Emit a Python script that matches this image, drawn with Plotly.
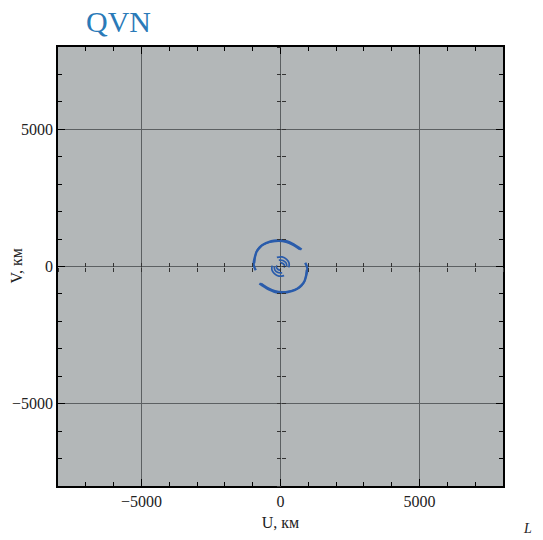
import plotly.graph_objects as go

# UV tracks (km)
outer_up_u = [-890, -965, -950, -920, -860, -740, -600, -430, -230, 0, 220, 420, 580, 700, 760]
outer_up_v = [-140, 60, 220, 340, 540, 700, 810, 890, 940, 955, 920, 840, 740, 660, 620]
outer_up2_u = [-930, -900, -840, -700, -520, -300, -60, 200, 420, 600, 690]
outer_up2_v = [120, 420, 600, 760, 850, 900, 920, 880, 790, 680, 610]

outer_lo_u = [890, 965, 950, 920, 860, 740, 600, 430, 230, 0, -220, -420, -580, -700, -760]
outer_lo_v = [140, -60, -220, -340, -540, -700, -810, -890, -940, -955, -920, -840, -740, -660, -620]
outer_lo2_u = [930, 900, 840, 700, 520, 300, 60, -200, -420, -600, -690]
outer_lo2_v = [-120, -420, -600, -760, -850, -900, -920, -880, -790, -680, -610]

inner_a_u = [-130, 60, 220, 310, 300]
inner_a_v = [330, 350, 260, 120, -30]
inner_b_u = [-60, 90, 200, 225]
inner_b_v = [230, 220, 130, 0]
inner_c_u = [-20, 100, 145, 120]
inner_c_v = [140, 100, 20, -40]

inner_d_u = [130, -60, -220, -310, -300]
inner_d_v = [-330, -350, -260, -120, 30]
inner_e_u = [60, -90, -200, -225]
inner_e_v = [-230, -220, -130, 0]
inner_f_u = [20, -100, -145, -120]
inner_f_v = [-140, -100, -20, 40]

tracks = [
    (outer_up_u, outer_up_v, 2.4), (outer_up2_u, outer_up2_v, 1.5),
    (outer_lo_u, outer_lo_v, 2.4), (outer_lo2_u, outer_lo2_v, 1.5),
    (inner_a_u, inner_a_v, 1.7), (inner_b_u, inner_b_v, 1.7), (inner_c_u, inner_c_v, 1.7),
    (inner_d_u, inner_d_v, 1.7), (inner_e_u, inner_e_v, 1.7), (inner_f_u, inner_f_v, 1.7),
]

BLUE = "#2a5cab"
GRID = "#5c6062"
SERIF = "Liberation Serif"
R = [-8000, 8000]

fig = go.Figure()
for u, v, w in tracks:
    fig.add_trace(go.Scatter(x=u, y=v, mode="lines", line=dict(color=BLUE, width=w, shape="spline"),
                             showlegend=False, hoverinfo="skip"))

# dummy traces so the zero-line tick axes are drawn
fig.add_trace(go.Scatter(x=[None], y=[None], xaxis="x2", yaxis="y2", showlegend=False))
fig.add_trace(go.Scatter(x=[None], y=[None], xaxis="x3", yaxis="y3", showlegend=False))

main_axis = dict(range=R, dtick=5000, tick0=0, ticks="inside", ticklen=7, tickcolor="black",
                 tickwidth=1, showline=True, linecolor="black", linewidth=1.5, mirror="ticks",
                 showgrid=True, gridcolor=GRID, gridwidth=1, zeroline=True, zerolinecolor=GRID,
                 zerolinewidth=1, minor=dict(dtick=1000, ticks="inside", ticklen=4, tickcolor="black",
                                             showgrid=False),
                 tickfont=dict(family=SERIF, size=16, color="#222"), fixedrange=True,
                 automargin=False)

center_axis = dict(range=R, dtick=1000, tick0=0, ticklen=4, tickcolor="#333", tickwidth=1,
                   showline=False, showgrid=False, zeroline=False, showticklabels=False,
                   anchor="free", position=0.5, fixedrange=True, automargin=False)

fig.update_layout(
    width=543, height=540,
    margin=dict(l=58, r=40, t=47, b=54),
    paper_bgcolor="white", plot_bgcolor="#b3b7b8",
    xaxis=dict(**main_axis, title=dict(text="U, км", font=dict(family=SERIF, size=16, color="#222"),
                                       standoff=8)),
    yaxis=dict(**main_axis),
    xaxis2=dict(**center_axis, overlaying="x", ticks="inside"),
    yaxis2=dict(**center_axis, overlaying="y", ticks="inside"),
    xaxis3=dict(**center_axis, overlaying="x", ticks="outside"),
    yaxis3=dict(**center_axis, overlaying="y", ticks="outside"),
    title=dict(text="QVN", font=dict(family=SERIF, size=30, color="#2a7ab8"),
               x=86 / 543, xanchor="left", xref="container", y=1 - 21 / 540, yanchor="middle",
               yref="container"),
    annotations=[
        dict(text="V, км", textangle=-90, x=-42 / 445, y=0.5, xref="paper", yref="paper",
             xanchor="center", yanchor="middle", showarrow=False,
             font=dict(family=SERIF, size=16, color="#222")),
        dict(text="<i>L</i>", x=(527 - 58) / 445, y=-33 / 439, xref="paper", yref="paper",
             xanchor="center", yanchor="top", showarrow=False,
             font=dict(family=SERIF, size=14, color="#222")),
    ],
)

fig.write_html("out.html")
